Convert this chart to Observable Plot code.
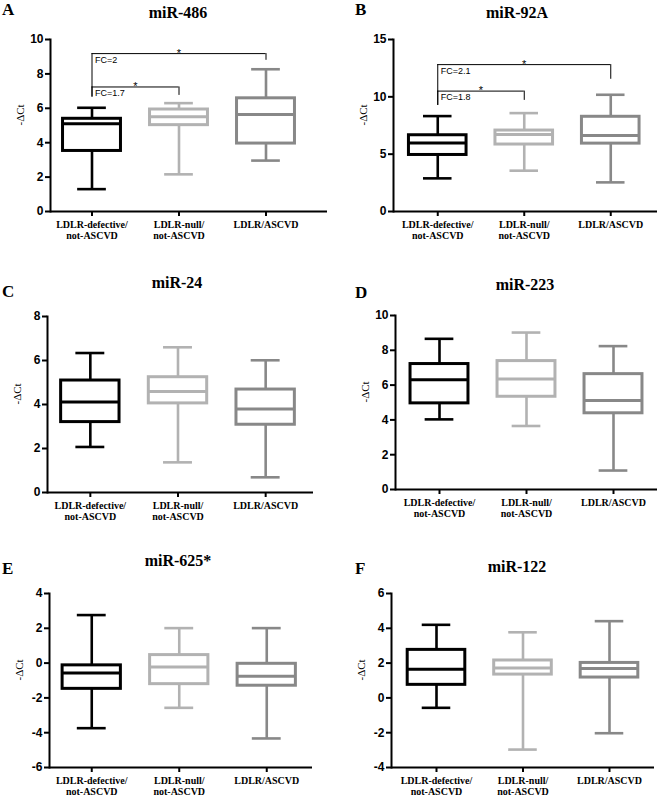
<!DOCTYPE html>
<html>
<head>
<meta charset="utf-8">
<script src="https://cdn.jsdelivr.net/npm/d3@7"></script>
<script src="https://cdn.jsdelivr.net/npm/@observablehq/plot@0.6"></script>
<style>
  html, body { margin: 0; padding: 0; background: #fff; }
  #root { position: relative; width: 658px; height: 796px; overflow: hidden; background: #fff; }
  .panel { position: absolute; }
  .ttl { position: absolute; font-family: "Liberation Serif", "Times New Roman", serif; font-weight: bold; font-size: 16px; line-height: 16px; white-space: nowrap; color: #000; }
  .letter { position: absolute; font-family: "Liberation Serif", "Times New Roman", serif; font-weight: bold; font-size: 17px; line-height: 17px; color: #000; }
  g[aria-label="y-axis tick label"] text { font-weight: bold; font-family: "Liberation Sans", Arial, sans-serif; font-size: 12px; }
  g[aria-label="x-axis tick label"] text { font-weight: bold; font-family: "Liberation Serif", "Times New Roman", serif; }
</style>
</head>
<body>
<div id="root"></div>
<script>
// ---- Data ----
const groups = ["LDLR-defective/\nnot-ASCVD", "LDLR-null/\nnot-ASCVD", "LDLR/ASCVD"];
const groupColors = ["#000000", "#b2b2b2", "#888888"];
const panelLetters = ["A", "B", "C", "D", "E", "F"];
const panelTitles = ["miR-486", "miR-92A", "miR-24", "miR-223", "miR-625*", "miR-122"];

// five-number summaries per group: [min, q1, median, q3, max]
const miR486 = [[1.30, 3.52, 5.10, 5.39, 6.03], [2.16, 5.02, 5.51, 5.93, 6.30], [2.96, 3.95, 5.64, 6.58, 8.27]];
const miR92A = [[2.89, 4.93, 5.98, 6.65, 8.32], [3.56, 5.84, 6.71, 7.06, 8.58], [2.54, 5.92, 6.62, 8.26, 10.18]];
const miR24  = [[2.07, 3.20, 4.11, 5.09, 6.34], [1.37, 4.05, 4.59, 5.24, 6.60], [0.69, 3.08, 3.79, 4.68, 6.01]];
const miR223 = [[4.03, 4.95, 6.31, 7.21, 8.66], [3.65, 5.33, 6.35, 7.38, 9.02], [1.09, 4.38, 5.12, 6.63, 8.24]];
const miR625 = [[-3.74, -1.48, -0.57, -0.13, 2.76], [-2.57, -1.21, -0.23, 0.46, 2.01], [-4.33, -1.30, -0.75, -0.04, 2.01]];
const miR122 = [[-0.57, 0.75, 1.65, 2.76, 4.20], [-2.97, 1.34, 1.72, 2.15, 3.77], [-2.03, 1.17, 1.69, 2.01, 4.41]];

// significance brackets: group indices, bracket level, leg ends, fold-change label
const miR486Sig = [
  {from: 0, to: 1, level: 7.24, leftEnd: 6.65, rightEnd: 6.75, fc: "FC=1.7"},
  {from: 0, to: 2, level: 9.18, leftEnd: 6.65, rightEnd: 8.79, fc: "FC=2"}
];
const miR92ASig = [
  {from: 0, to: 1, level: 10.5, leftEnd: 9.25, rightEnd: 9.69, fc: "FC=1.8"},
  {from: 0, to: 2, level: 12.81, leftEnd: 9.25, rightEnd: 11.53, fc: "FC=2.1"}
];

// y axis domains and ticks
const yDomains = [[0, 10], [0, 15], [0, 8], [0, 10], [-6, 4], [-4, 6]];
const yTickSets = [[0, 2, 4, 6, 8, 10], [0, 5, 10, 15], [0, 2, 4, 6, 8], [0, 2, 4, 6, 8, 10], [-6, -4, -2, 0, 2, 4], [-4, -2, 0, 2, 4, 6]];
const yLabel = "-ΔCt";

const panelStats = [miR486, miR92A, miR24, miR223, miR625, miR122];
const panelSigs = [miR486Sig, miR92ASig, [], [], [], []];

// ---- Layout (styling) ----
const layouts = [
  {left: 0,   top: 0,   w: 329, h: 250, mt: 39, mb: 39, ml: 50, mr: 2,  xr: [48, 309],
   title: {cx: 178, top: 5}, letter: {x: 2, top: 1}},
  {left: 329, top: 0,   w: 329, h: 250, mt: 39, mb: 39, ml: 64, mr: 1,  xr: [65, 324.5],
   title: {cx: 517, top: 5}, letter: {x: 355, top: 1}},
  {left: 0,   top: 265, w: 329, h: 265, mt: 51, mb: 38, ml: 47, mr: 16, xr: [46, 309],
   title: {cx: 177, top: 275}, letter: {x: 2, top: 283}},
  {left: 329, top: 265, w: 329, h: 265, mt: 50, mb: 41, ml: 66, mr: 1,  xr: [66.5, 327.5],
   title: {cx: 525, top: 277}, letter: {x: 355, top: 284}},
  {left: 0,   top: 530, w: 329, h: 266, mt: 63, mb: 29, ml: 49, mr: 17, xr: [47.5, 310],
   title: {cx: 178, top: 553}, letter: {x: 2, top: 560}},
  {left: 329, top: 530, w: 329, h: 266, mt: 63, mb: 29, ml: 62, mr: 4,  xr: [63.75, 323.25],
   title: {cx: 517, top: 559}, letter: {x: 355, top: 560}}
];

const root = document.getElementById("root");
const serif = "Liberation Serif, Times New Roman, serif";
const sans = "Liberation Sans, Arial, sans-serif";
const boxHalf = 0.333, capHalf = 0.165;

panelStats.forEach((stats, p) => {
  const L = layouts[p];
  const rows = stats.map((s, i) => ({
    i, color: groupColors[i], min: s[0], q1: s[1], med: s[2], q3: s[3], max: s[4]
  }));
  const sig = panelSigs[p];
  const yd = yDomains[p];

  const chart = Plot.plot({
    width: L.w, height: L.h,
    marginTop: L.mt, marginBottom: L.mb, marginLeft: L.ml, marginRight: L.mr,
    style: {overflow: "visible", background: "transparent"},
    x: {type: "linear", domain: [-0.5, 2.5], range: L.xr},
    y: {domain: yd, range: [L.h - L.mb, L.mt]},
    color: {type: "identity"},
    marks: [
      // whiskers
      Plot.ruleX(rows, {x: "i", y1: "min", y2: "q1", stroke: "color", strokeWidth: 2.6}),
      Plot.ruleX(rows, {x: "i", y1: "q3", y2: "max", stroke: "color", strokeWidth: 2.6}),
      Plot.ruleY(rows, {x1: d => d.i - capHalf, x2: d => d.i + capHalf, y: "min", stroke: "color", strokeWidth: 2.6}),
      Plot.ruleY(rows, {x1: d => d.i - capHalf, x2: d => d.i + capHalf, y: "max", stroke: "color", strokeWidth: 2.6}),
      // boxes
      Plot.rectY(rows, {x1: d => d.i - boxHalf, x2: d => d.i + boxHalf, y1: "q1", y2: "q3", fill: "white", stroke: "color", strokeWidth: 3}),
      Plot.ruleY(rows, {x1: d => d.i - boxHalf, x2: d => d.i + boxHalf, y: "med", stroke: "color", strokeWidth: 3}),
      // significance brackets
      Plot.ruleX(sig, {x: "from", y1: "leftEnd", y2: "level", stroke: "#000", strokeWidth: 1}),
      Plot.ruleX(sig, {x: "to", y1: "rightEnd", y2: "level", stroke: "#000", strokeWidth: 1}),
      Plot.ruleY(sig, {x1: "from", x2: "to", y: "level", stroke: "#000", strokeWidth: 1}),
      Plot.text(sig, {x: d => (d.from + d.to) / 2, y: "level", text: () => "*", fontFamily: sans, fontSize: 11, lineAnchor: "bottom", dy: 3, fill: "#000"}),
      Plot.text(sig, {x: "from", y: "level", text: "fc", fontFamily: sans, fontSize: 9, textAnchor: "start", lineAnchor: "top", dx: 3, dy: 3, fill: "#000"}),
      // axes
      Plot.axisY({ticks: yTickSets[p], tickSize: 5, tickPadding: 2, tickFormat: d => String(d),
        fontFamily: sans, fontSize: 12, fontWeight: "bold", strokeWidth: 2, label: null, color: "#000"}),
      Plot.axisX({ticks: [0, 1, 2], tickFormat: i => groups[i], tickSize: 5, tickPadding: 3,
        fontFamily: serif, fontSize: 10, fontWeight: "bold", lineHeight: 1.15, strokeWidth: 2, label: null, color: "#000"}),
      Plot.ruleY([yd[0]], {stroke: "#000", strokeWidth: 2}),
      Plot.frame({anchor: "left", stroke: "#000", strokeWidth: 2}),
      Plot.text([yLabel], {frameAnchor: "left", rotate: -90, dx: -30, text: d => d, fontFamily: serif, fontSize: 11, fill: "#000"})
    ]
  });

  const wrap = document.createElement("div");
  wrap.className = "panel";
  wrap.style.left = L.left + "px";
  wrap.style.top = L.top + "px";
  wrap.appendChild(chart);
  root.appendChild(wrap);

  const t = document.createElement("div");
  t.className = "ttl";
  t.textContent = panelTitles[p];
  t.style.top = L.title.top + "px";
  t.style.left = (L.title.cx - 100) + "px";
  t.style.width = "200px";
  t.style.textAlign = "center";
  root.appendChild(t);

  const lt = document.createElement("div");
  lt.className = "letter";
  lt.textContent = panelLetters[p];
  lt.style.left = L.letter.x + "px";
  lt.style.top = L.letter.top + "px";
  root.appendChild(lt);
});
</script>
</body>
</html>
